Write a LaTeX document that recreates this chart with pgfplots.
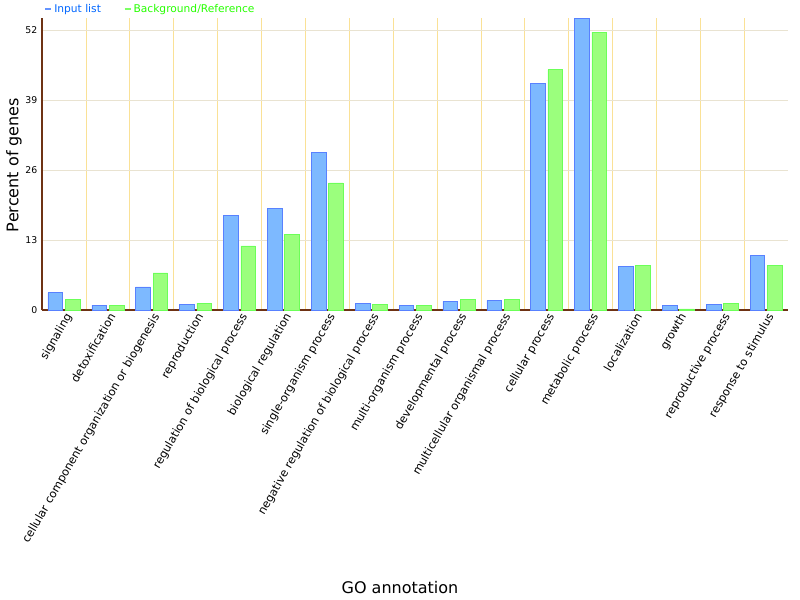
\documentclass[border=0pt]{standalone}
\usepackage{pgfplots}
\pgfplotsset{compat=1.18}
\usepackage{fontspec}
\setmainfont{DejaVu Sans}
\definecolor{bblue}{RGB}{125,185,255}
\definecolor{bgreen}{RGB}{155,255,125}
\definecolor{axbrown}{RGB}{110,50,20}
\definecolor{gy}{RGB}{250,225,150}
\begin{document}
\begin{tikzpicture}
\useasboundingbox (-31.5pt,-217.5pt) rectangle (568.5pt,232.5pt);
\begin{axis}[at={(0,0)},anchor=south west,scale only axis,width=559.5pt,height=219pt,
 ymin=0,ymax=54.2,xmin=-0.5,xmax=16.5,
 ybar,bar width=11pt,
 xtick={0,...,16},
 xticklabels={signaling,detoxification,cellular component organization or biogenesis,reproduction,regulation of biological process,biological regulation,single-organism process,negative regulation of biological process,multi-organism process,developmental process,multicellular organismal process,cellular process,metabolic process,localization,growth,reproductive process,response to stimulus},
 x tick label style={rotate=60,anchor=north east,font=\fontsize{8.5}{9}\selectfont,inner sep=1pt},
 ytick={0,13,26,39,52},
 y tick label style={font=\fontsize{7}{8}\selectfont},
 /pgf/number format/assume math mode=true,
 minor x tick num=1,
 xminorgrids, minor grid style={gy},
 ymajorgrids, major grid style={gy!60!gray!40},
 axis x line*=bottom, axis y line*=left,
 x axis line style={axbrown,thick,-}, y axis line style={axbrown,thick,-},
 major tick length=0pt, tick style={draw=none},
 every axis plot/.append style={draw=none},
 clip=false]
\addplot[fill=bblue,draw=bblue!70!blue] coordinates {(0,3.2)(1,0.9)(2,4.3)(3,1.0)(4,17.5)(5,18.8)(6,29.3)(7,1.3)(8,0.9)(9,1.6)(10,1.8)(11,42)(12,54.2)(13,8.1)(14,0.9)(15,1.1)(16,10.2)};
\addplot[fill=bgreen,draw=bgreen!70!green] coordinates {(0,2.0)(1,0.9)(2,6.9)(3,1.3)(4,11.9)(5,14.1)(6,23.6)(7,1.1)(8,0.9)(9,2.0)(10,2.0)(11,44.6)(12,51.6)(13,8.3)(14,0.2)(15,1.3)(16,8.3)};
\end{axis}
\node[rotate=90,font=\fontsize{12}{14}\selectfont] at (-21pt,108.75pt) {Percent of genes};
\node[font=\fontsize{12}{14}\selectfont] at (268.5pt,-208.5pt) {GO annotation};
\draw[bblue!80!blue,line width=1.5pt] (2.5pt,225.5pt) -- (7pt,225.5pt);
\node[anchor=west,font=\fontsize{8}{9}\selectfont,text=blue!60!cyan,inner sep=1pt] at (8pt,225.5pt) {Input list};
\draw[bgreen!80!green,line width=1.5pt] (62pt,225.5pt) -- (66.5pt,225.5pt);
\node[anchor=west,font=\fontsize{8}{9}\selectfont,text=green!80!lime,inner sep=1pt] at (67.5pt,225.5pt) {Background/Reference};
\end{tikzpicture}
\end{document}
